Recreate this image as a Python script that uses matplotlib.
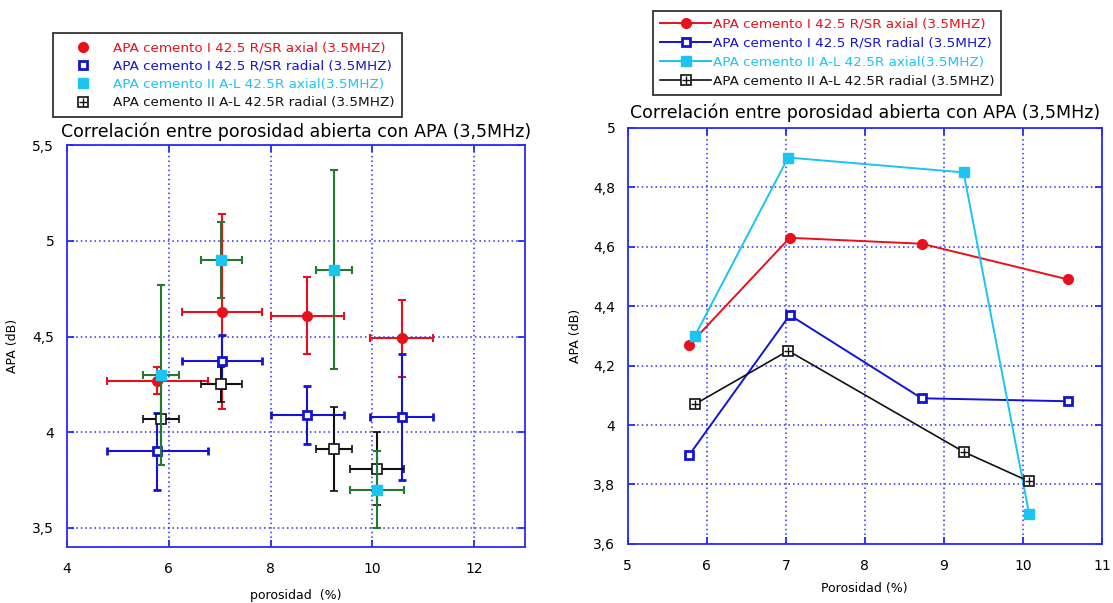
import numpy as np
import matplotlib
matplotlib.use("Agg")
import matplotlib.pyplot as plt
from matplotlib.ticker import FuncFormatter

# datos
por_I = [5.78, 7.05, 8.72, 10.57]
por_II = [5.85, 7.03, 9.25, 10.08]
apa_I_axial = [4.27, 4.63, 4.61, 4.49]
apa_I_radial = [3.90, 4.37, 4.09, 4.08]
apa_II_axial = [4.30, 4.90, 4.85, 3.70]
apa_II_radial = [4.07, 4.25, 3.91, 3.81]

# barras de error
err_por_I = [1.0, 0.78, 0.72, 0.62]
err_por_II = [0.35, 0.40, 0.35, 0.53]
err_I_axial = [0.07, 0.51, 0.20, 0.20]
err_I_radial = [0.20, 0.14, 0.15, 0.33]
err_II_axial = [0.47, 0.20, 0.52, 0.20]
err_II_radial = [0.24, 0.09, 0.22, 0.19]

labels = ["APA cemento I 42.5 R/SR axial (3.5MHZ)",
          "APA cemento I 42.5 R/SR radial (3.5MHZ)",
          "APA cemento II A-L 42.5R axial(3.5MHZ)",
          "APA cemento II A-L 42.5R radial (3.5MHZ)"]
title = "Correlación entre porosidad abierta con APA (3,5MHz)"

RED = "#e8101a"
BLUE = "#1414d2"
CYAN = "#1cc4f2"
GREEN = "#237a2e"
BLACK = "#111111"
GRIDBLUE = "#2a2aff"

plt.rcParams["font.family"] = "DejaVu Sans"

def comma(v, pos):
    s = f"{v:g}"
    return s.replace(".", ",")

def style_axes(ax):
    for sp in ax.spines.values():
        sp.set_color(GRIDBLUE)
        sp.set_linewidth(1.3)
    ax.tick_params(direction="in", colors=GRIDBLUE, labelcolor="black",
                   top=True, right=True, length=5, width=1.3, labelsize=10, pad=9)
    ax.tick_params(axis="x", pad=11)
    ax.grid(True, color=GRIDBLUE, linestyle=(0, (1, 2)), linewidth=1.1)
    ax.yaxis.set_major_formatter(FuncFormatter(comma))

def color_legend(leg):
    leg.get_frame().set_linewidth(1.3)
    for t, c in zip(leg.get_texts(), [RED, BLUE, CYAN, BLACK]):
        t.set_color(c)

fig = plt.figure(figsize=(11.13, 6.03), dpi=100)

# ---- izquierda: con barras de error ----
ax1 = fig.add_axes([0.060, 0.093, 0.412, 0.666])
h1 = ax1.errorbar(por_I, apa_I_axial, xerr=err_por_I, yerr=err_I_axial, fmt="o",
                  color=RED, ecolor=RED, ms=7, capsize=3, elinewidth=1.5, capthick=1.5)
h2 = ax1.errorbar(por_I, apa_I_radial, xerr=err_por_I, yerr=err_I_radial, fmt="s",
                  color=BLUE, mfc="white", mec=BLUE, mew=2, ms=6, ecolor=BLUE,
                  capsize=3, elinewidth=1.5, capthick=1.5)
h3 = ax1.errorbar(por_II, apa_II_axial, xerr=err_por_II, yerr=err_II_axial, fmt="s",
                  color=CYAN, ms=7, ecolor=GREEN, capsize=3, elinewidth=1.5,
                  capthick=1.5, zorder=3)
h4 = ax1.errorbar(por_II, apa_II_radial, xerr=err_por_II, yerr=err_II_radial, fmt="s",
                  color=BLACK, mfc="white", mec=BLACK, mew=1.2, ms=7, ecolor=BLACK,
                  capsize=3, elinewidth=1.5, capthick=1.5)
h4b, = ax1.plot(por_II, apa_II_radial, "+", color=BLACK, ms=6, mew=1)
ax1.set_xlim(4, 13)
ax1.set_ylim(3.4, 5.5)
ax1.set_xticks([4, 6, 8, 10, 12])
ax1.set_yticks([3.5, 4, 4.5, 5, 5.5])
style_axes(ax1)
ax1.set_title(title, fontsize=12.5, pad=6)
ax1.set_xlabel("porosidad  (%)", fontsize=9, labelpad=9)
ax1.set_ylabel("APA (dB)", fontsize=9, labelpad=10)

leg1 = fig.legend([h1[0], h2[0], h3[0], (h4[0], h4b)], labels,
                  loc="upper left", bbox_to_anchor=(0.048, 0.945), borderaxespad=0,
                  fontsize=9.7, frameon=True, fancybox=False, edgecolor="black",
                  handlelength=3.2, handletextpad=0.6, borderpad=0.6,
                  labelspacing=0.4)
color_legend(leg1)

# ---- derecha: lineas ----
ax2 = fig.add_axes([0.564, 0.098, 0.426, 0.690])
l1, = ax2.plot(por_I, apa_I_axial, "-o", color=RED, ms=7, lw=1.4)
l2, = ax2.plot(por_I, apa_I_radial, "-s", color=BLUE, mfc="white", mec=BLUE,
               mew=2, ms=6, lw=1.4)
l3, = ax2.plot(por_II, apa_II_axial, "-s", color=CYAN, ms=7, lw=1.4)
l4, = ax2.plot(por_II, apa_II_radial, "-s", color=BLACK, mfc="white", mec=BLACK,
               mew=1.2, ms=7, lw=1.2)
l4b, = ax2.plot(por_II, apa_II_radial, "+", color=BLACK, ms=6, mew=1)
ax2.set_xlim(5, 11)
ax2.set_ylim(3.6, 5)
ax2.set_xticks(range(5, 12))
ax2.set_yticks([3.6, 3.8, 4, 4.2, 4.4, 4.6, 4.8, 5])
style_axes(ax2)
ax2.set_title(title, fontsize=12.5, pad=7)
ax2.set_xlabel("Porosidad (%)", fontsize=9, labelpad=6)
ax2.set_ylabel("APA (dB)", fontsize=9, labelpad=8)

leg2 = fig.legend([l1, l2, l3, (l4, l4b)], labels,
                  loc="upper left", bbox_to_anchor=(0.587, 0.982), borderaxespad=0,
                  fontsize=9.7, frameon=True, fancybox=False, edgecolor="black",
                  handlelength=3.8, handletextpad=0.1, borderpad=0.5,
                  labelspacing=0.45)
color_legend(leg2)

fig.savefig("out.png", dpi=100)
